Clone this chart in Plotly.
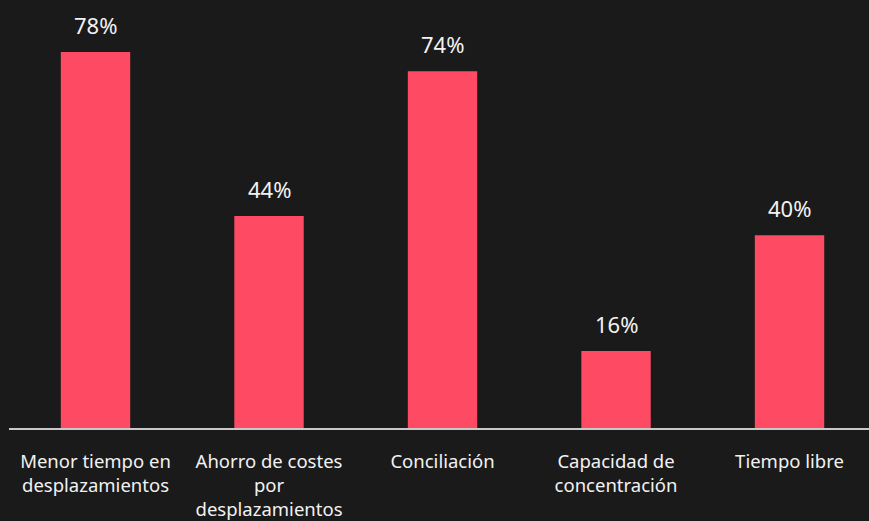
import plotly.graph_objects as go

categories = ["Menor tiempo en<br>desplazamientos", "Ahorro de costes<br>por<br>desplazamientos",
              "Conciliación", "Capacidad de<br>concentración", "Tiempo libre"]
values = [78, 44, 74, 16, 40]
value_labels = ["78%", "44%", "74%", "16%", "40%"]

BG = "#1a1a1a"
BAR = "#ff4a64"
TXT = "#f2f2f2"
FONT = "Noto Sans, Lato, sans-serif"

fig = go.Figure()
fig.add_trace(go.Bar(x=list(range(len(categories))), y=values, marker_color=BAR,
                     marker_line_width=0, width=0.4, hoverinfo="skip"))

for i, (v, lab) in enumerate(zip(values, value_labels)):
    fig.add_annotation(x=i, y=v, text=lab, showarrow=False, yanchor="bottom",
                       yshift=10, font=dict(size=22, color=TXT, family=FONT))

fig.update_layout(
    width=869, height=521,
    paper_bgcolor=BG, plot_bgcolor=BG,
    margin=dict(l=9, r=0, t=0, b=93),
    showlegend=False,
    font=dict(family=FONT, color=TXT),
    xaxis=dict(tickmode="array", tickvals=list(range(len(categories))), ticktext=categories,
               range=[-0.4986, 4.458], showgrid=False, zeroline=False,
               showline=True, linecolor="#c8c8c8", linewidth=1.5,
               tickfont=dict(size=18.5, color=TXT, family=FONT), ticks="", ticklabelstandoff=16),
    yaxis=dict(range=[0, 88.8], visible=False, showgrid=False, zeroline=False),
)

fig.write_html("out.html", config={"displayModeBar": False},
               post_script="document.body.style.margin='0';document.body.style.background='%s';" % BG)
